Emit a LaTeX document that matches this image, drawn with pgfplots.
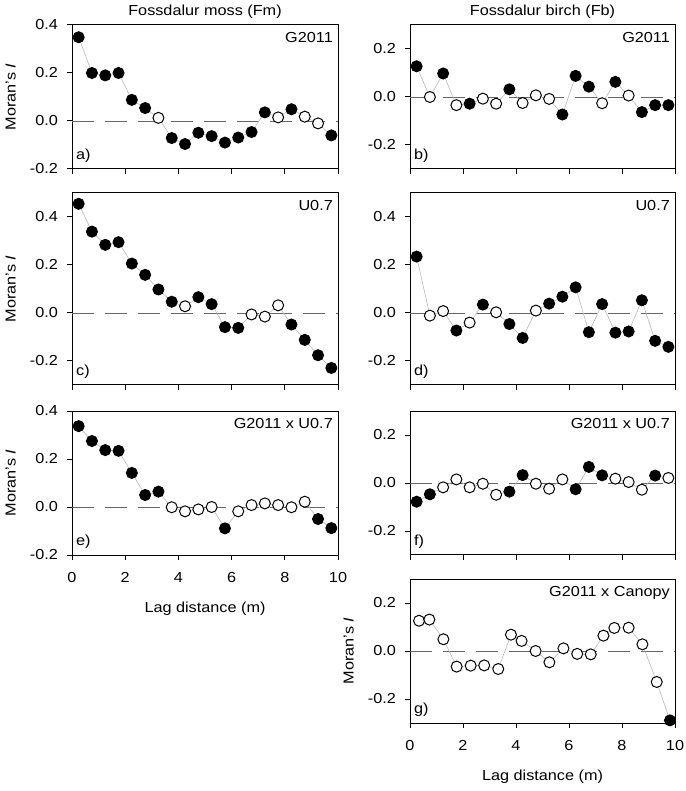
\documentclass[border=0pt]{standalone}
\usepackage{fontspec}
\setmainfont{Liberation Sans}[FakeStretch=1.12]
\usepackage{pgfplots}
\usepackage{pgfplotstable}
\pgfplotsset{compat=1.18}

% x = lag distance (m), y = Moran's I, s = 1 significant (filled) / 0 (open)
\pgfplotstableread{
x y s
0.25 0.349 1
0.75 0.200 1
1.25 0.190 1
1.75 0.200 1
2.25 0.088 1
2.75 0.054 1
3.25 0.013 0
3.75 -0.071 1
4.25 -0.096 1
4.75 -0.049 1
5.25 -0.063 1
5.75 -0.090 1
6.25 -0.069 1
6.75 -0.046 1
7.25 0.036 1
7.75 0.015 0
8.25 0.049 1
8.75 0.018 0
9.25 -0.010 0
9.75 -0.060 1
}\tabA

\pgfplotstableread{
x y s
0.25 0.128 1
0.75 0.000 0
1.25 0.098 1
1.75 -0.034 0
2.25 -0.028 1
2.75 -0.007 0
3.25 -0.028 0
3.75 0.032 1
4.25 -0.025 0
4.75 0.007 0
5.25 -0.008 0
5.75 -0.073 1
6.25 0.088 1
6.75 0.043 1
7.25 -0.026 0
7.75 0.063 1
8.25 0.006 0
8.75 -0.063 1
9.25 -0.034 1
9.75 -0.034 1
}\tabB

\pgfplotstableread{
x y s
0.25 0.455 1
0.75 0.339 1
1.25 0.284 1
1.75 0.295 1
2.25 0.206 1
2.75 0.159 1
3.25 0.098 1
3.75 0.047 1
4.25 0.028 0
4.75 0.066 1
5.25 0.037 1
5.75 -0.059 1
6.25 -0.062 1
6.75 -0.006 0
7.25 -0.015 0
7.75 0.032 0
8.25 -0.048 1
8.75 -0.112 1
9.25 -0.176 1
9.75 -0.229 1
}\tabC

\pgfplotstableread{
x y s
0.25 0.235 1
0.75 -0.011 0
1.25 0.008 0
1.75 -0.073 1
2.25 -0.040 0
2.75 0.035 1
3.25 0.003 0
3.75 -0.046 1
4.25 -0.104 1
4.75 0.010 0
5.25 0.039 1
5.75 0.068 1
6.25 0.107 1
6.75 -0.080 1
7.25 0.037 1
7.75 -0.082 1
8.25 -0.077 1
8.75 0.053 1
9.25 -0.116 1
9.75 -0.141 1
}\tabD

\pgfplotstableread{
x y s
0.25 0.337 1
0.75 0.275 1
1.25 0.237 1
1.75 0.234 1
2.25 0.142 1
2.75 0.050 1
3.25 0.064 1
3.75 -0.001 0
4.25 -0.018 0
4.75 -0.010 0
5.25 0.000 0
5.75 -0.089 1
6.25 -0.018 0
6.75 0.008 0
7.25 0.015 0
7.75 0.008 0
8.25 -0.001 0
8.75 0.022 0
9.25 -0.050 1
9.75 -0.088 1
}\tabE

\pgfplotstableread{
x y s
0.25 -0.078 1
0.75 -0.047 1
1.25 -0.018 0
1.75 0.015 0
2.25 -0.018 0
2.75 -0.003 0
3.25 -0.049 0
3.75 -0.036 1
4.25 0.033 1
4.75 -0.003 0
5.25 -0.024 0
5.75 0.015 0
6.25 -0.026 1
6.75 0.067 1
7.25 0.032 1
7.75 0.018 0
8.25 0.004 0
8.75 -0.028 0
9.25 0.031 1
9.75 0.021 0
}\tabF

\pgfplotstableread{
x y s
0.34 0.126 0
0.73 0.131 0
1.26 0.049 0
1.76 -0.065 0
2.29 -0.061 0
2.80 -0.060 0
3.33 -0.075 0
3.81 0.068 0
4.21 0.042 0
4.74 0.000 0
5.26 -0.047 0
5.79 0.011 0
6.31 -0.012 0
6.82 -0.014 0
7.30 0.064 0
7.71 0.096 0
8.25 0.097 0
8.77 0.028 0
9.31 -0.129 0
9.81 -0.289 1
}\tabG

\pgfplotsset{
  moran/.style={
    scale only axis, clip=false, anchor=north west,
    xmin=0, xmax=10, xtick={0,2,4,6,8,10}, xticklabels={},
    xtick pos=left, ytick pos=left, tick align=outside,
    major tick length=5pt,
    axis line style={line width=1pt},
    every tick/.style={black, line width=1pt},
    yticklabel style={xshift=-4pt, /pgf/number format/.cd, fixed, fixed zerofill, precision=1, assume math mode=true},
    xticklabel style={yshift=-7pt},
    ylabel style={at={(axis description cs:0,0.5)}, anchor=south, yshift=56pt, inner sep=0pt},
    xlabel style={at={(axis description cs:0.5,0)}, anchor=north, yshift=-47pt, inner sep=0pt},
    title style={at={(axis description cs:0.5,1)}, anchor=south, inner sep=0pt},
  },
  labx/.style={xticklabels={0,2,4,6,8,10}, xlabel={Lag distance (m)}},
  pt/.style={only marks, mark=*, mark size=5.5pt,
    mark options={draw=black, fill=#1, line width=1pt}},
}

\newcommand{\moran}[3]{%
  \addplot[black!60, line width=0.9pt, dash pattern=on 22pt off 11pt, forget plot] coordinates {(0,0) (10,0)};
  \addplot[gray!55, line width=0.6pt, forget plot] table[x=x, y=y] {#1};
  \addplot[pt=white, restrict expr to domain={\thisrow{s}}{-0.5:0.5}] table[x=x, y=y] {#1};
  \addplot[pt=black, restrict expr to domain={\thisrow{s}}{0.5:1.5}] table[x=x, y=y] {#1};
  \node[anchor=north east, inner sep=0pt] at (rel axis cs:1,1) [xshift=-5pt, yshift=-7pt] {#2};
  \node[anchor=south west, inner sep=0pt] at (rel axis cs:0,0) [xshift=4pt, yshift=6pt] {#3};
}

\begin{document}
\fontsize{14.5pt}{17pt}\selectfont
\begin{tikzpicture}[font=\fontsize{14.5pt}{17pt}\selectfont]
\useasboundingbox (0pt,0pt) rectangle (685pt,-791pt);

\begin{axis}[moran, at={(72pt,-25pt)}, width=266pt, height=144pt,
  ymin=-0.2, ymax=0.4, ytick={-0.2,0,0.2,0.4},
  ylabel={Moran's \textit{I}}, title={Fossdalur moss (Fm)}]
\moran{\tabA}{G2011}{a)}
\end{axis}

\begin{axis}[moran, at={(410pt,-25pt)}, width=265pt, height=144pt,
  ymin=-0.3, ymax=0.3, ytick={-0.2,0,0.2},
  title={Fossdalur birch (Fb)}]
\moran{\tabB}{G2011}{b)}
\end{axis}

\begin{axis}[moran, at={(72pt,-193pt)}, width=266pt, height=192pt,
  ymin=-0.3, ymax=0.5, ytick={-0.2,0,0.2,0.4},
  ylabel={Moran's \textit{I}}]
\moran{\tabC}{U0.7}{c)}
\end{axis}

\begin{axis}[moran, at={(410pt,-193pt)}, width=265pt, height=192pt,
  ymin=-0.3, ymax=0.5, ytick={-0.2,0,0.2,0.4}]
\moran{\tabD}{U0.7}{d)}
\end{axis}

\begin{axis}[moran, labx, at={(72pt,-411pt)}, width=266pt, height=144pt,
  ymin=-0.2, ymax=0.4, ytick={-0.2,0,0.2,0.4},
  ylabel={Moran's \textit{I}}]
\moran{\tabE}{G2011 x U0.7}{e)}
\end{axis}

\begin{axis}[moran, at={(410pt,-411pt)}, width=265pt, height=144pt,
  ymin=-0.3, ymax=0.3, ytick={-0.2,0,0.2}]
\moran{\tabF}{G2011 x U0.7}{f)}
\end{axis}

\begin{axis}[moran, labx, at={(410pt,-579pt)}, width=265pt, height=144pt,
  ymin=-0.3, ymax=0.3, ytick={-0.2,0,0.2},
  ylabel={Moran's \textit{I}}]
\moran{\tabG}{G2011 x Canopy}{g)}
\end{axis}
\end{tikzpicture}
\end{document}
